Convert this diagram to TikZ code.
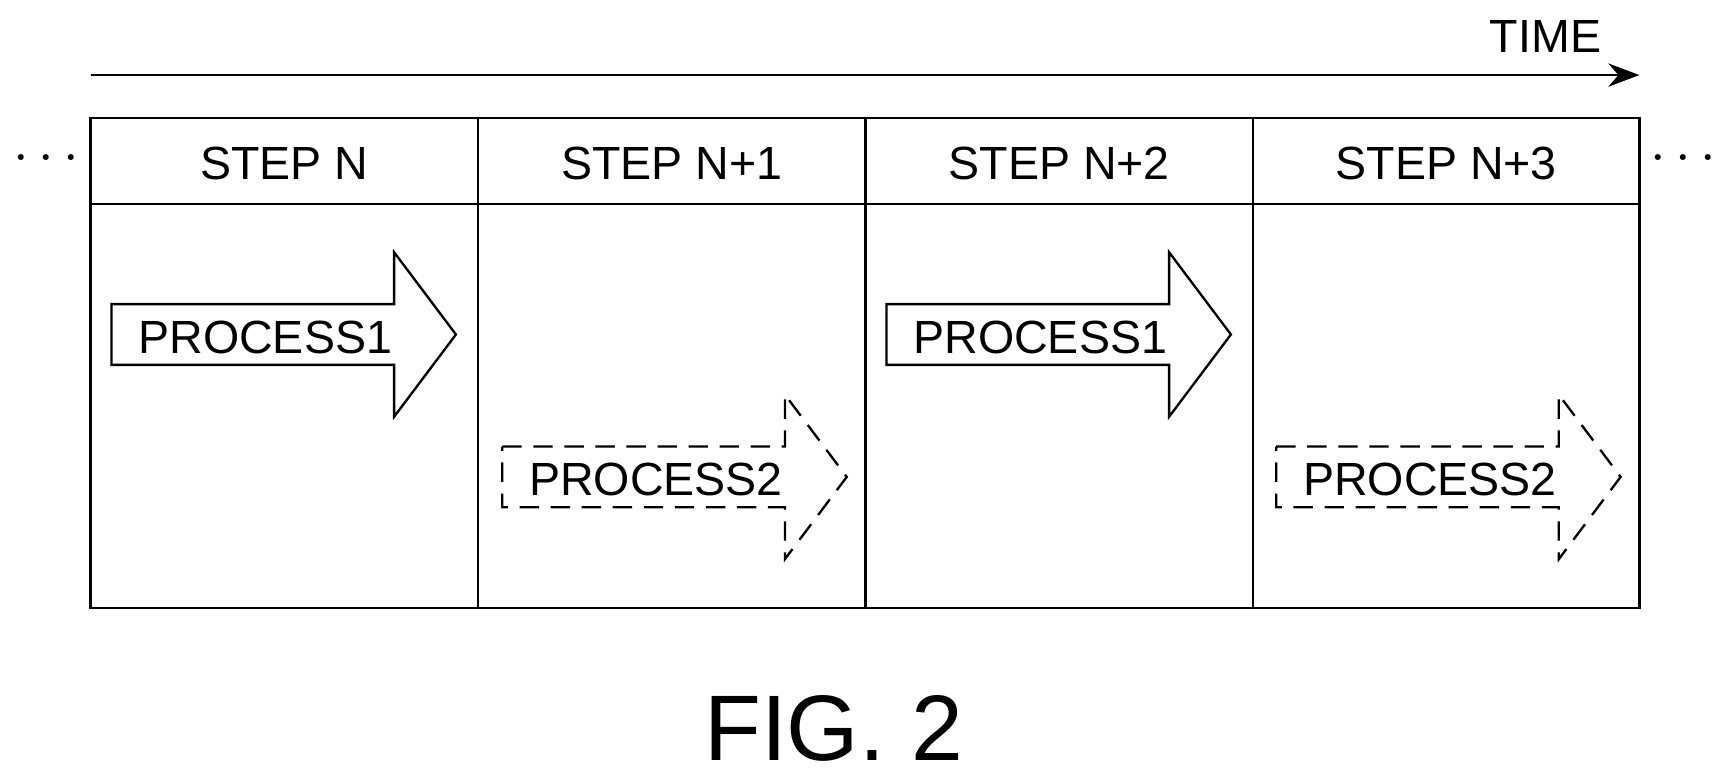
\documentclass[tikz,border=0pt]{standalone}
\usepackage{fontspec}
\setmainfont{Liberation Sans}
\usetikzlibrary{arrows.meta, positioning, calc}

\tikzset{
  grid line/.style={draw, line width=0.6pt},
  proc/.style={draw, line width=0.6pt, fill=white},
  proc dashed/.style={proc, dash pattern=on 5pt off 3pt},
  label/.style={font=\fontsize{12}{14}\selectfont}
}

% process arrow: #1 style, #2 left x, #3 body centre y, #4 text
\newcommand{\procarrow}[4]{%
  \draw[#1] (#2,#3+0.3) -- ++(2.56,0) -- ++(0,0.47) -- ++(0.56,-0.745)
    -- ++(-0.56,-0.745) -- ++(0,0.47) -- ++(-2.56,0) -- cycle;
  \node[label, anchor=west] at (#2+0.12,#3) {#4};
}

\begin{document}
\begin{tikzpicture}[>=Stealth]
  \useasboundingbox (0,0) rectangle (15.68,7.04);

  % time axis
  \coordinate (t0) at (0.82,6.36);
  \coordinate (t1) at (14.85,6.36);
  \draw[-{Stealth[length=8pt,width=6pt]}, line width=0.6pt] (t0) -- (t1);
  \node[label, anchor=base] (time) at (14.0,6.56) {TIME};

  % table of steps
  \draw[grid line] (0.82,1.53) rectangle (14.85,5.97);
  \draw[grid line] (0.82,5.19) -- (14.85,5.19);
  \foreach \x in {4.33,7.84,11.35}
    \draw[grid line] (\x,1.53) -- (\x,5.97);

  \node[label] (s0) at (2.575,5.56) {STEP N};
  \node[label] (s1) at (6.085,5.56) {STEP N+1};
  \node[label] (s2) at (9.595,5.56) {STEP N+2};
  \node[label] (s3) at (13.10,5.56) {STEP N+3};

  % continuation dots
  \node[font=\bfseries\fontsize{14}{14}\selectfont] (dl) at (0.42,5.60) {$\cdots$};
  \node[font=\bfseries\fontsize{14}{14}\selectfont] (dr) at (15.25,5.60) {$\cdots$};

  % processes
  \procarrow{proc}{1.01}{3.985}{PROCESS1}
  \procarrow{proc dashed}{4.55}{2.695}{PROCESS2}
  \procarrow{proc}{8.03}{3.985}{PROCESS1}
  \procarrow{proc dashed}{11.56}{2.695}{PROCESS2}

  \node[font=\fontsize{24}{28}\selectfont] (fig) at (7.55,0.44) {FIG. 2};
\end{tikzpicture}
\end{document}
